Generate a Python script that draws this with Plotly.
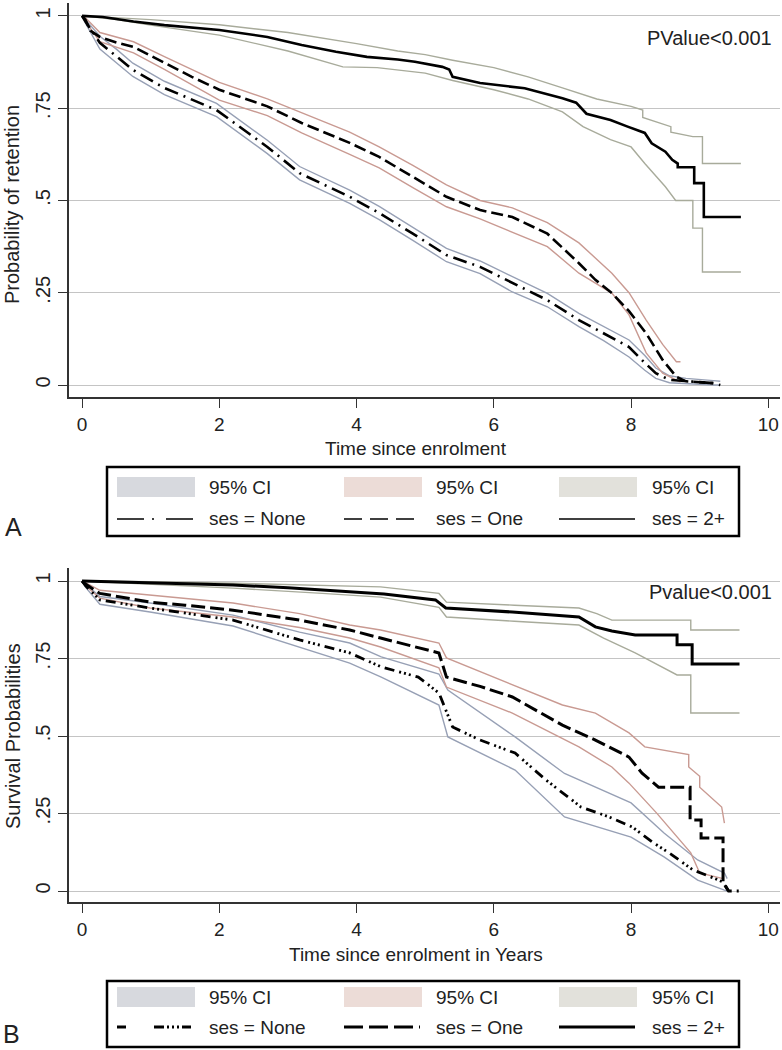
import plotly.graph_objects as go

W, H = 782, 1050

# ---------------- Panel A: probability of retention ----------------
a_none_t = [0, 0.05, 0.26, 0.5, 0.74, 1.2, 1.96, 2.7, 3.17, 3.9, 4.33, 4.82, 5.31, 5.8, 6.27, 6.78, 7.24, 7.6, 7.97, 8.2, 8.36, 8.56, 8.8, 9.2, 9.3]
a_none_s = [1, 0.985, 0.927, 0.89, 0.854, 0.805, 0.745, 0.645, 0.574, 0.51, 0.466, 0.41, 0.352, 0.32, 0.276, 0.23, 0.176, 0.14, 0.103, 0.06, 0.032, 0.014, 0.01, 0.005, 0.0]
a_none_hi = [1, 0.99, 0.945, 0.91, 0.872, 0.823, 0.763, 0.663, 0.592, 0.528, 0.484, 0.428, 0.37, 0.336, 0.293, 0.248, 0.194, 0.158, 0.122, 0.08, 0.046, 0.025, 0.018, 0.012, 0.01]
a_none_lo = [1, 0.98, 0.91, 0.872, 0.836, 0.787, 0.727, 0.627, 0.556, 0.492, 0.448, 0.392, 0.334, 0.302, 0.252, 0.212, 0.158, 0.12, 0.076, 0.04, 0.018, 0.006, 0.003, 0.0, 0.0]

a_one_t = [0, 0.05, 0.12, 0.26, 0.5, 0.75, 1.2, 1.6, 2.0, 2.7, 3.2, 3.9, 4.33, 4.82, 5.31, 5.8, 6.27, 6.78, 7.24, 7.48, 7.72, 7.97, 8.22, 8.46, 8.66, 8.8, 9.2]
a_one_s = [1, 0.99, 0.96, 0.943, 0.928, 0.916, 0.873, 0.835, 0.80, 0.755, 0.71, 0.656, 0.618, 0.565, 0.51, 0.474, 0.455, 0.41, 0.33, 0.285, 0.249, 0.20, 0.14, 0.068, 0.022, 0.01, 0.005]
a_one_ci_t = [0, 0.05, 0.26, 0.75, 1.2, 2.0, 2.7, 3.2, 3.9, 4.33, 4.82, 5.31, 5.8, 6.27, 6.78, 7.24, 7.72, 7.97, 8.22, 8.46, 8.66, 8.72]
a_one_hi = [1, 0.995, 0.955, 0.93, 0.89, 0.82, 0.775, 0.737, 0.685, 0.645, 0.595, 0.542, 0.50, 0.48, 0.44, 0.385, 0.303, 0.25, 0.176, 0.11, 0.063, 0.063]
a_one_lo = [1, 0.985, 0.93, 0.90, 0.855, 0.772, 0.73, 0.683, 0.625, 0.588, 0.535, 0.483, 0.45, 0.415, 0.375, 0.303, 0.249, 0.19, 0.087, 0.032, 0.012, 0.008]

a_two_t = [0, 0.3, 0.75, 1.2, 2.0, 2.7, 3.2, 3.7, 4.15, 4.6, 4.85, 5.25, 5.35, 5.4, 5.8, 6.45, 7.0, 7.2, 7.35, 7.7, 7.95, 8.2, 8.3, 8.5, 8.6, 8.68, 8.68, 8.92, 8.92, 9.06, 9.06, 9.6]
a_two_s = [1, 0.997, 0.985, 0.975, 0.962, 0.943, 0.921, 0.903, 0.889, 0.882, 0.876, 0.862, 0.855, 0.835, 0.818, 0.804, 0.777, 0.765, 0.735, 0.718, 0.70, 0.683, 0.655, 0.632, 0.61, 0.60, 0.59, 0.59, 0.547, 0.547, 0.455, 0.455]
a_two_hi_t = [0, 0.5, 1.0, 2.0, 3.0, 4.0, 4.6, 5.0, 5.4, 6.0, 6.5, 7.0, 7.5, 8.0, 8.17, 8.17, 8.4, 8.58, 8.58, 8.9, 9.04, 9.04, 9.6]
a_two_hi = [1, 0.995, 0.99, 0.976, 0.955, 0.925, 0.905, 0.895, 0.88, 0.86, 0.835, 0.805, 0.775, 0.755, 0.745, 0.725, 0.71, 0.70, 0.685, 0.673, 0.673, 0.60, 0.60]
a_two_lo_t = [0, 0.5, 1.0, 2.0, 3.0, 3.8, 4.3, 5.0, 5.4, 6.0, 6.5, 7.0, 7.3, 7.7, 8.0, 8.2, 8.5, 8.65, 8.9, 8.9, 9.04, 9.04, 9.6]
a_two_lo = [1, 0.99, 0.975, 0.948, 0.905, 0.862, 0.86, 0.845, 0.825, 0.80, 0.775, 0.74, 0.70, 0.665, 0.645, 0.60, 0.537, 0.50, 0.50, 0.425, 0.425, 0.306, 0.306]

# ---------------- Panel B: survival probabilities ----------------
b_none_t = [0, 0.05, 0.26, 0.99, 2.2, 3.17, 3.9, 4.36, 4.9, 5.2, 5.4, 5.8, 6.31, 6.76, 7.27, 7.68, 8.02, 8.31, 8.6, 8.9, 9.2, 9.33, 9.42, 9.6]
b_none_s = [1, 0.985, 0.939, 0.913, 0.874, 0.81, 0.768, 0.723, 0.69, 0.639, 0.529, 0.487, 0.445, 0.358, 0.271, 0.239, 0.206, 0.158, 0.116, 0.068, 0.042, 0.03, 0.0, 0.0]
b_none_ci_t = [0, 0.05, 0.26, 0.99, 2.2, 3.17, 3.9, 4.36, 5.2, 5.33, 6.31, 7.03, 8.0, 8.48, 8.97, 9.36, 9.4]
b_none_hi = [1, 0.99, 0.95, 0.929, 0.89, 0.835, 0.80, 0.755, 0.70, 0.648, 0.497, 0.379, 0.284, 0.187, 0.10, 0.058, 0.04]
b_none_lo = [1, 0.98, 0.925, 0.90, 0.855, 0.787, 0.735, 0.69, 0.60, 0.497, 0.39, 0.239, 0.174, 0.11, 0.035, 0.003, 0.0]

b_one_t = [0, 0.05, 0.26, 0.99, 1.5, 2.2, 3.17, 3.9, 4.35, 5.2, 5.31, 5.8, 6.27, 7.0, 7.48, 7.97, 8.16, 8.4, 8.86, 8.86, 9.02, 9.02, 9.34, 9.34, 9.42]
b_one_s = [1, 0.99, 0.96, 0.932, 0.922, 0.906, 0.874, 0.842, 0.816, 0.768, 0.69, 0.66, 0.626, 0.535, 0.487, 0.432, 0.38, 0.335, 0.335, 0.229, 0.229, 0.171, 0.171, 0.03, 0.0]
b_one_hi_t = [0, 0.05, 0.26, 0.99, 2.2, 3.17, 3.9, 4.35, 5.2, 5.31, 6.27, 7.0, 7.48, 7.97, 8.2, 8.84, 8.84, 9.0, 9.0, 9.32, 9.36]
b_one_hi = [1, 0.995, 0.97, 0.955, 0.929, 0.895, 0.858, 0.842, 0.80, 0.752, 0.665, 0.60, 0.574, 0.51, 0.465, 0.44, 0.40, 0.37, 0.335, 0.271, 0.219]
b_one_lo_t = [0, 0.05, 0.26, 0.99, 2.2, 3.17, 3.9, 4.35, 5.2, 5.31, 6.27, 7.24, 7.72, 7.97, 8.37, 8.87, 9.0, 9.34]
b_one_lo = [1, 0.985, 0.945, 0.913, 0.884, 0.85, 0.816, 0.787, 0.72, 0.658, 0.574, 0.465, 0.40, 0.348, 0.252, 0.123, 0.058, 0.04]

b_two_t = [0, 0.3, 1.0, 2.2, 3.0, 3.9, 4.4, 5.15, 5.3, 6.27, 7.24, 7.48, 7.72, 8.06, 8.67, 8.67, 8.89, 8.89, 9.58]
b_two_s = [1, 0.998, 0.995, 0.987, 0.978, 0.965, 0.958, 0.939, 0.913, 0.90, 0.884, 0.852, 0.839, 0.826, 0.826, 0.794, 0.794, 0.732, 0.732]
b_two_hi_t = [0, 1.0, 2.2, 3.5, 4.35, 5.2, 5.31, 6.3, 7.24, 7.5, 7.72, 8.87, 8.87, 9.58]
b_two_hi = [1, 0.998, 0.993, 0.987, 0.981, 0.96, 0.932, 0.922, 0.913, 0.895, 0.874, 0.874, 0.842, 0.842]
b_two_lo_t = [0, 1.0, 2.2, 3.5, 4.35, 5.2, 5.31, 6.3, 7.24, 7.6, 8.06, 8.67, 8.87, 8.87, 9.58]
b_two_lo = [1, 0.99, 0.977, 0.96, 0.948, 0.915, 0.884, 0.87, 0.858, 0.816, 0.768, 0.697, 0.697, 0.574, 0.574]

x_ticks = [0, 2, 4, 6, 8, 10]
y_ticks = [0, 0.25, 0.5, 0.75, 1]
y_ticktext = ["0", ".25", ".5", ".75", "1"]

FONT = "Liberation Sans, Arial, sans-serif"
ci_none, ci_one, ci_two = "#97a0b5", "#c99a92", "#a8ab9b"
sw_none, sw_one, sw_two = "#d7d9de", "#ecdcd7", "#e2e1db"


def px(x):
    return x / W


def py(y):
    return 1 - y / H


fig = go.Figure()


def curve(t, s, xa, ya, color, width, dash="solid"):
    fig.add_trace(go.Scatter(x=t, y=s, xaxis=xa, yaxis=ya, mode="lines",
                             line=dict(color=color, width=width, dash=dash),
                             showlegend=False, hoverinfo="skip"))


# panel A
curve(a_none_t, a_none_hi, "x", "y", ci_none, 1.4)
curve(a_none_t, a_none_lo, "x", "y", ci_none, 1.4)
curve(a_one_ci_t, a_one_hi, "x", "y", ci_one, 1.4)
curve(a_one_ci_t, a_one_lo, "x", "y", ci_one, 1.4)
curve(a_two_hi_t, a_two_hi, "x", "y", ci_two, 1.4)
curve(a_two_lo_t, a_two_lo, "x", "y", ci_two, 1.4)
curve(a_none_t, a_none_s, "x", "y", "black", 2.6, "14px,6px,2px,6px")
curve(a_one_t, a_one_s, "x", "y", "black", 2.6, "12px,5px")
curve(a_two_t, a_two_s, "x", "y", "black", 2.6)

# panel B
curve(b_none_ci_t, b_none_hi, "x2", "y2", ci_none, 1.4)
curve(b_none_ci_t, b_none_lo, "x2", "y2", ci_none, 1.4)
curve(b_one_hi_t, b_one_hi, "x2", "y2", ci_one, 1.4)
curve(b_one_lo_t, b_one_lo, "x2", "y2", ci_one, 1.4)
curve(b_two_hi_t, b_two_hi, "x2", "y2", ci_two, 1.4)
curve(b_two_lo_t, b_two_lo, "x2", "y2", ci_two, 1.4)
curve(b_none_t, b_none_s, "x2", "y2", "black", 2.8, "10px,5px,2px,3px,2px,3px,2px,5px")
curve(b_one_t, b_one_s, "x2", "y2", "black", 3, "14px,5px")
curve(b_two_t, b_two_s, "x2", "y2", "black", 3)

xa_common = dict(range=[-0.19, 10.17], tickvals=x_ticks, ticks="outside", ticklen=9,
                 tickcolor="#333", showline=True, linecolor="#333", linewidth=1.5,
                 showgrid=False, zeroline=False, tickfont=dict(size=19, color="#222"))
ya_common = dict(tickvals=y_ticks, ticktext=y_ticktext, tickangle=-90, ticks="outside",
                 ticklen=9, tickcolor="#333", showline=True, linecolor="#333", linewidth=1.5,
                 showgrid=True, gridcolor="#c4c4c4", gridwidth=1.2, zeroline=False,
                 tickfont=dict(size=20, color="#222"))

fig.update_layout(
    width=W, height=H, margin=dict(l=0, r=0, t=0, b=0),
    paper_bgcolor="white", plot_bgcolor="white",
    font=dict(family=FONT, color="#222"),
    xaxis=dict(domain=[px(69), px(780)], anchor="y", **xa_common),
    yaxis=dict(domain=[py(397), py(3)], anchor="x", range=[-0.0325, 1.035], **ya_common),
    xaxis2=dict(domain=[px(69), px(780)], anchor="y2", **xa_common),
    yaxis2=dict(domain=[py(902), py(568)], anchor="x2", range=[-0.0355, 1.042], **ya_common),
)

ann = []


def text(x, y, s, size=19, xanchor="left", angle=0):
    ann.append(dict(x=px(x), y=py(y), xref="paper", yref="paper", text=s, showarrow=False,
                    xanchor=xanchor, yanchor="middle", textangle=angle,
                    font=dict(size=size, family=FONT, color="#222")))


text(12, 205, "Probability of retention", 20, "center", -90)
text(13, 736, "Survival Probabilities", 20, "center", -90)
text(416, 448, "Time since enrolment", 19, "center")
text(416, 954, "Time since enrolment in Years", 19, "center")
text(774, 38, "PValue&lt;0.001", 20, "right")
text(774, 592, "Pvalue&lt;0.001", 20, "right")
text(13, 527, "A", 25, "center")
text(11, 1034, "B", 25, "center")

shapes = []


def legend_box(top, bottom, row1, row2, samples):
    shapes.append(dict(type="rect", xref="paper", yref="paper", x0=px(107), x1=px(739),
                       y0=py(bottom), y1=py(top), line=dict(color="black", width=2.5)))
    cols = [(117, 207), (344, 434), (559, 650)]
    fills = [sw_none, sw_one, sw_two]
    labels = ["ses = None", "ses = One", "ses = 2+"]
    for (sx, tx), fc, lab, (dash, lw) in zip(cols, fills, labels, samples):
        shapes.append(dict(type="rect", xref="paper", yref="paper", x0=px(sx), x1=px(sx + 78),
                           y0=py(row1 + 10), y1=py(row1 - 10), fillcolor=fc, line=dict(width=0)))
        shapes.append(dict(type="line", xref="paper", yref="paper", x0=px(sx), x1=px(sx + 76),
                           y0=py(row2), y1=py(row2), line=dict(color="black", width=lw, dash=dash)))
        text(tx, row1, "95% CI", 19)
        text(tx, row2, lab, 19)


legend_box(467, 536, 487, 519,
           [("27px,8px,2px,12px", 1.5), ("18px,8px", 1.5), ("solid", 1.5)])
legend_box(981, 1047, 997, 1027,
           [("9px,28px,10px,3px,2px,3px,2px,3px,2px,3px", 3), ("19px,6px", 3), ("solid", 3)])

fig.update_layout(annotations=ann, shapes=shapes)

fig.write_html("out.html", config={"displayModeBar": False},
               post_script="document.body.style.margin='0px';")
